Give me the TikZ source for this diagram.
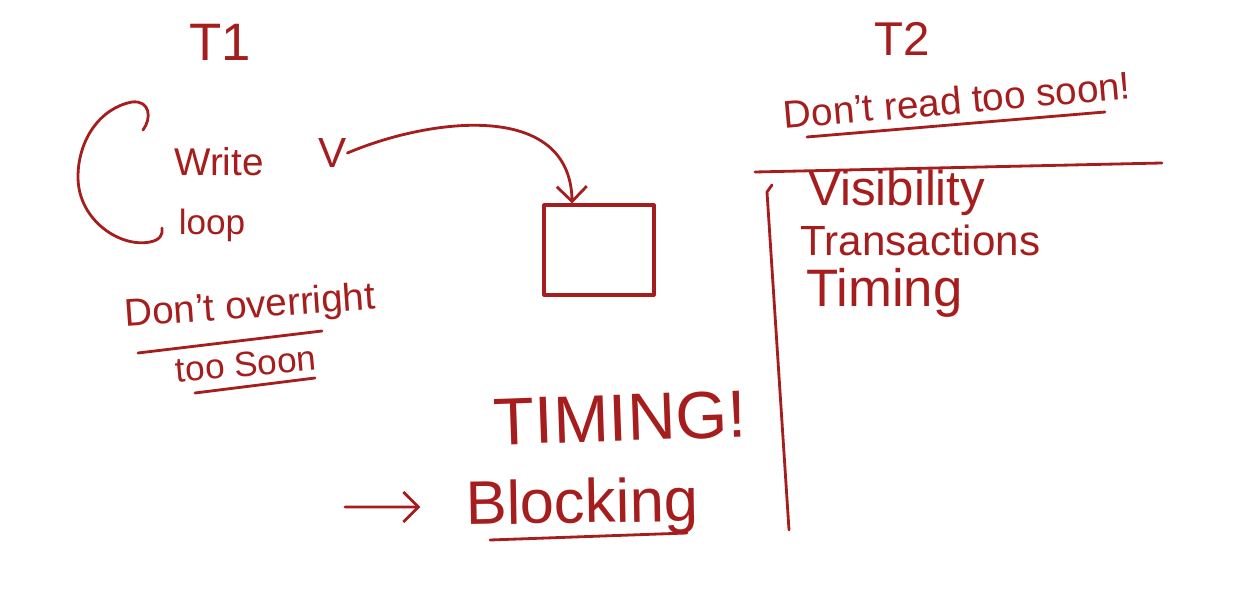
\documentclass[tikz,border=0pt]{standalone}
\usepackage{fontspec}
\setmainfont{Liberation Sans}
\usetikzlibrary{positioning, arrows.meta}

\definecolor{ink}{HTML}{A51D1D}

\begin{document}
\begin{tikzpicture}[
  x=0.02cm, y=-0.02cm,
  hand/.style={text=ink, inner sep=0pt},
  fs/.style={font=\fontsize{#1}{#1}\selectfont},
  stroke/.style={draw=ink, line width=1.6pt, line cap=round, line join=round},
  arrow/.style={stroke, -{Straight Barb[length=3mm, width=6mm]}},
]
  \useasboundingbox (0,0) rectangle (1240,590);

  % left thread
  \node[hand, fs=30] (t1) at (220,42) {T1};
  \node[hand, fs=22] (write) at (219,162) {Write};
  \node[hand, fs=24] (val) at (333,153) {V};
  \node[hand, fs=20] (loop) at (212,225) {loop};
  \draw[stroke] (143,130) .. controls (152,118) and (150,100) .. (132,102)
    .. controls (100,108) and (78,140) .. (78,177)
    .. controls (78,220) and (120,248) .. (150,242)
    .. controls (160,240) and (163,235) .. (162,228);

  \node[stroke, line width=1.8pt, minimum width=2.2cm, minimum height=1.8cm, inner sep=0pt] (box) at (599,250) {};
  \draw[arrow] (val.east) .. controls (430,118) and (570,100) .. (box.120);

  \node[hand, fs=22, rotate=4] (overright) at (250,308) {Don't overright};
  \node[hand, fs=20, rotate=5] (soon1) at (246,364) {too Soon};
  \draw[stroke] (138,353) -- (322,331);
  \draw[stroke] (195,393) -- (315,378);

  \node[hand, fs=38, rotate=2] (timing) at (620,418) {TIMING!};
  \node[hand, fs=35, rotate=1] (blocking) at (582,507) {Blocking};
  \coordinate (dash) at (345,507);
  \draw[arrow, shorten >=0.9cm] (dash) -- (blocking);
  \draw[stroke] (490,540) -- (687,533);

  % right thread
  \node[hand, fs=27] (t2) at (902,39) {T2};
  \node[hand, fs=22, rotate=5] (read) at (957,100) {Don't read too soon!};
  \draw[stroke] (807,137) -- (1105,112);
  \draw[stroke] (755,172) -- (1162,163);
  \draw[stroke] (772,185) -- (767,192) -- (789,530);

  \node[hand, fs=28, anchor=west] (vis) at (808,193) {Visibility};
  \node[hand, fs=24, anchor=west] (trans) at (800,240) {Transactions};
  \node[hand, fs=30, anchor=west] (tim) at (806,293) {Timing};
\end{tikzpicture}
\end{document}
